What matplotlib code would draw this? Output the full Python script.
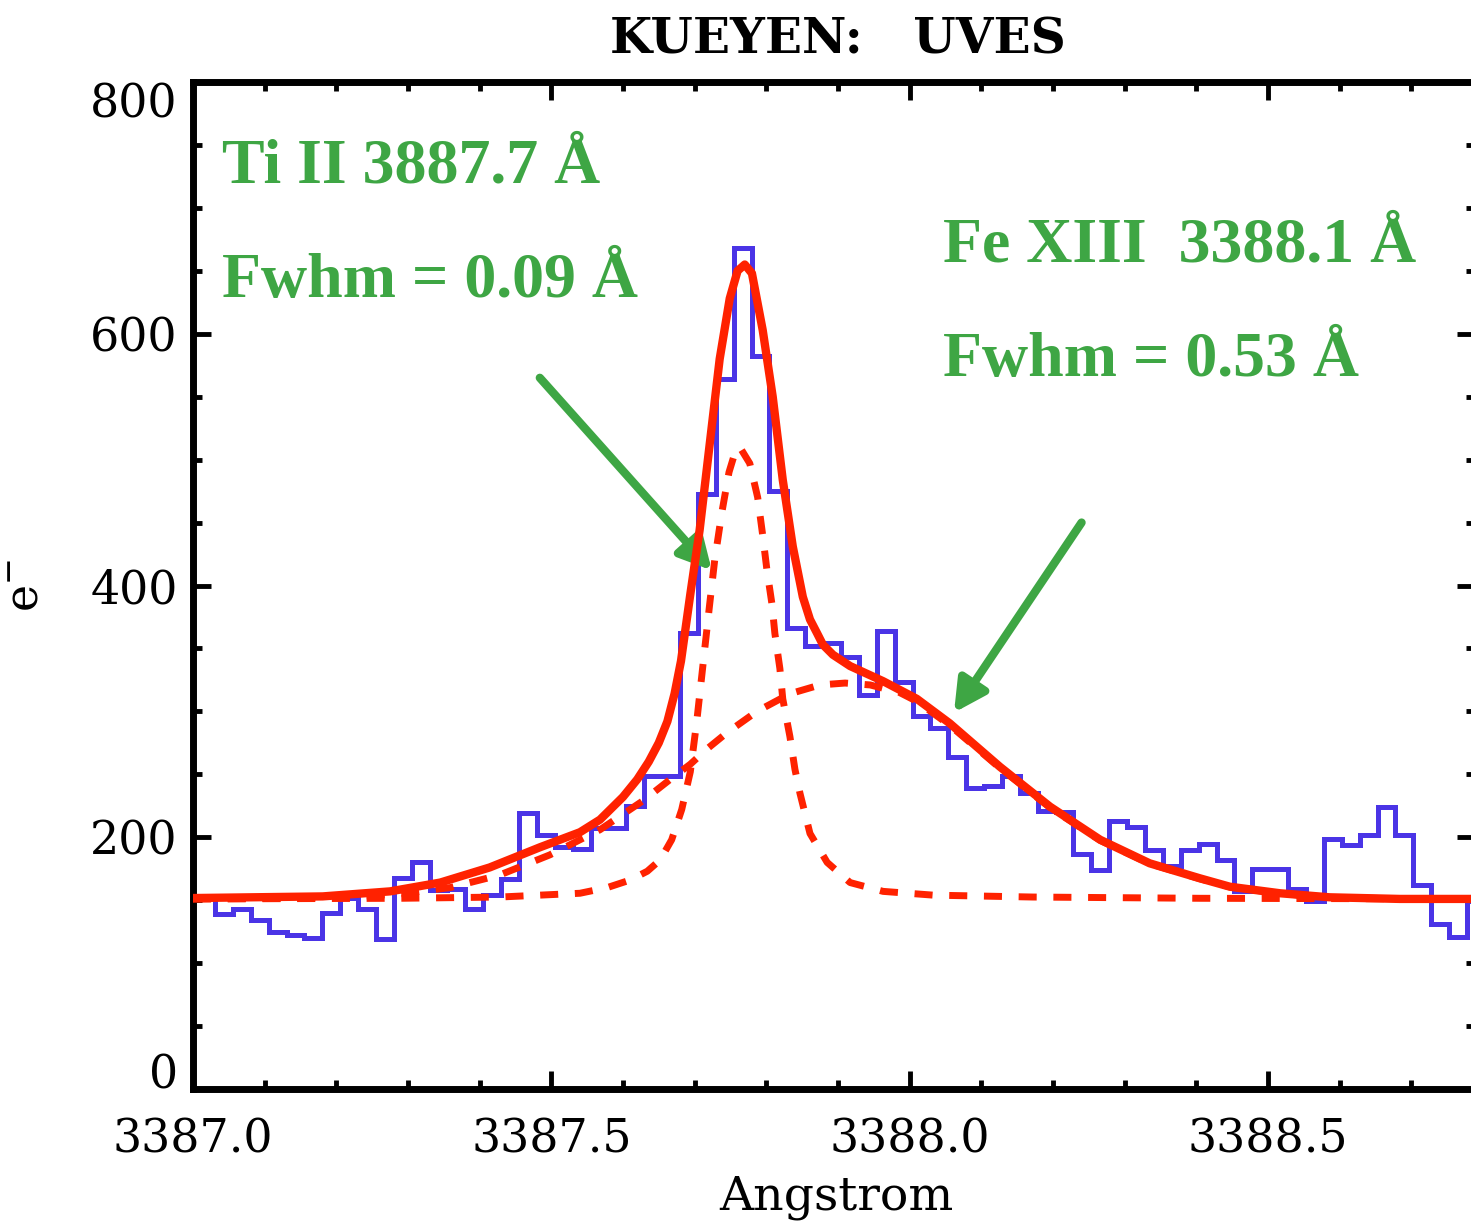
import matplotlib
matplotlib.use("Agg")
import matplotlib.pyplot as plt
import numpy as np
from matplotlib.ticker import MultipleLocator, FormatStrFormatter

plt.rcParams['font.family'] = ['DejaVu Serif']

# observed counts per detector bin (e-)
bin_start = 3387.0057
bin_width = 0.02496
counts = [153, 139, 143, 134, 125, 122, 120, 140, 152, 143,
          119, 168, 180, 158, 159, 143, 154, 167, 219, 202,
          192, 191, 207, 207, 225, 249, 249, 362, 473, 564,
          668, 582, 475, 366, 352, 354, 343, 313, 364, 323,
          296, 287, 264, 239, 241, 249, 235, 221, 220, 187,
          174, 213, 208, 190, 177, 190, 195, 182, 157, 175,
          175, 159, 149, 199, 194, 202, 224, 202, 162, 131,
          121, 149]

# total fit (solid)
fit_x = [3387.000, 3387.181, 3387.275, 3387.345, 3387.414, 3387.484, 3387.512,
         3387.540, 3387.568, 3387.600, 3387.620, 3387.636, 3387.650, 3387.662,
         3387.672, 3387.681, 3387.694, 3387.707, 3387.721, 3387.735, 3387.749,
         3387.760, 3387.770, 3387.780, 3387.795, 3387.809, 3387.823, 3387.837,
         3387.851, 3387.861, 3387.871, 3387.879, 3387.893, 3387.917, 3387.963,
         3388.010, 3388.056, 3388.126, 3388.196, 3388.266, 3388.335, 3388.405,
         3388.447, 3388.517, 3388.586, 3388.684, 3388.789]
fit_y = [151.7, 153, 157, 164, 176, 192, 198,
         204, 214, 232, 246, 260, 275, 292,
         314, 340, 393, 444, 512, 580, 628,
         650, 655, 648, 603, 550, 484, 431,
         391, 373, 362, 353, 345, 336, 324,
         310, 290.5, 256, 224.3, 198, 179.3, 167.4,
         160.7, 155.5, 152.3, 151, 151]

# Ti II component (dashed, narrow)
ti_x = [3387.000, 3387.289, 3387.428, 3387.540, 3387.578, 3387.610, 3387.634,
        3387.652, 3387.668, 3387.682, 3387.694, 3387.703, 3387.714, 3387.721,
        3387.728, 3387.738, 3387.748, 3387.756, 3387.763, 3387.777, 3387.788,
        3387.795, 3387.801, 3387.808, 3387.812, 3387.819, 3387.823, 3387.833,
        3387.840, 3387.847, 3387.861, 3387.885, 3387.917, 3387.963, 3388.033,
        3388.172, 3388.405, 3388.789]
ti_y = [151, 151.5, 152.5, 155.5, 160, 166, 173,
        182, 198, 222, 252, 292, 349, 385,
        420, 458, 490, 505, 510, 497, 470,
        440, 412, 385, 362, 334, 310, 280,
        254, 235, 203, 180, 164, 157, 154,
        152.5, 151.5, 151]

# Fe XIII component (dashed, broad)
fe_x = [3387.000, 3387.149, 3387.219, 3387.289, 3387.359, 3387.428, 3387.498,
        3387.568, 3387.628, 3387.666, 3387.694, 3387.717, 3387.745, 3387.787,
        3387.833, 3387.875, 3387.910, 3387.945, 3387.986, 3388.010, 3388.056,
        3388.126, 3388.196, 3388.266, 3388.335, 3388.405, 3388.447, 3388.517,
        3388.586, 3388.684, 3388.789]
fe_y = [151, 151.5, 152.5, 155, 160, 170, 186,
        206, 229, 246, 258, 270, 283, 300,
        314, 321, 322.5, 321, 315, 308, 289,
        255, 223.5, 197.5, 179, 167, 160.5, 155.3,
        152.2, 151, 151]

blue = '#4a34e6'
red = '#ff2200'
green = '#3ea644'

fig = plt.figure(figsize=(14.71, 12.24), dpi=100)
ax = fig.add_axes([0.1312, 0.1103, 0.8715, 0.8227])

edges = bin_start + bin_width * np.arange(len(counts) + 1)
ax.stairs(counts, edges, baseline=None, color=blue, lw=3.6, zorder=2)
ax.plot(fe_x, fe_y, color=red, lw=5, dashes=(2.6, 2.4), zorder=3)
ax.plot(ti_x, ti_y, color=red, lw=5, dashes=(2.6, 2.4), zorder=3)
ax.plot(fit_x, fit_y, color=red, lw=6, zorder=4)

ax.set_xlim(3387.0, 3388.789)
ax.set_ylim(0, 800)
ax.xaxis.set_major_locator(MultipleLocator(0.5))
ax.xaxis.set_minor_locator(MultipleLocator(0.1))
ax.xaxis.set_major_formatter(FormatStrFormatter('%.1f'))
ax.set_yticks([0, 200, 400, 600, 800])
ax.yaxis.set_minor_locator(MultipleLocator(50))
ax.tick_params(which='both', direction='in', top=True, right=True,
               width=3.5, color='black', labelsize=33)
ax.tick_params(which='major', length=13)
ax.tick_params(which='minor', length=6.5)
ax.tick_params(axis='x', pad=20)
ax.tick_params(axis='y', pad=11)
for s in ax.spines.values():
    s.set_linewidth(5)

yt = ax.yaxis.get_major_ticks()
yt[0].label1.set_verticalalignment('baseline')
yt[-1].label1.set_verticalalignment('top')

ax.set_xlabel('Angstrom', fontsize=34)
ax.xaxis.set_label_coords(0.5016, -0.085)
ax.set_ylabel('e$^{-}$', fontsize=33)
ax.yaxis.set_label_coords(-0.113, 0.5)

fig.text(838 / 1471, 1 - 40 / 1224, 'KUEYEN:   UVES', fontsize=35,
         fontweight='bold', ha='center', va='center')

tfont = dict(family='Liberation Serif', fontweight='bold', fontsize=46,
             color=green, transform=ax.transAxes, va='baseline', ha='left')
ax.text(0.0226, 0.9007, 'Ti II 3887.7 Å', **tfont)
ax.text(0.0226, 0.7865, 'Fwhm = 0.09 Å', **tfont)
ax.text(0.585, 0.8222, 'Fe XIII  3388.1 Å', **tfont)
ax.text(0.585, 0.708, 'Fwhm = 0.53 Å', **tfont)

arrow = dict(arrowstyle='-|>,head_length=0.95,head_width=0.5',
             color=green, lw=6, mutation_scale=20, shrinkA=0, shrinkB=0)
ax.annotate('', xy=(3387.724, 412), xytext=(3387.484, 565), arrowprops=arrow)
ax.annotate('', xy=(3388.062, 299), xytext=(3388.240, 450), arrowprops=arrow)

fig.savefig('out.png', dpi=100)
